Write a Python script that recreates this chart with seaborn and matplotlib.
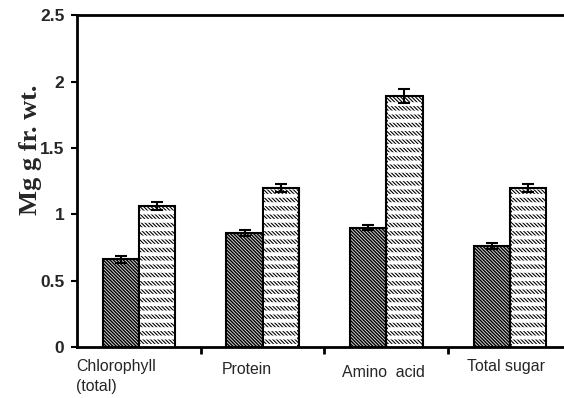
import matplotlib
matplotlib.use("Agg")
import matplotlib.pyplot as plt
import matplotlib.transforms as mtransforms
import seaborn as sns
import pandas as pd
import numpy as np

categories = ["Chlorophyll\n(total)", "Protein", "Amino  acid", "Total sugar"]
series_names = ["Control", "Treated"]
control = [0.66, 0.86, 0.90, 0.76]
treated = [1.06, 1.20, 1.89, 1.20]
control_err = [0.025, 0.025, 0.02, 0.025]
treated_err = [0.03, 0.03, 0.05, 0.03]
y_ticks = [0, 0.5, 1, 1.5, 2, 2.5]
y_tick_labels = ["0", "0.5", "1", "1.5", "2", "2.5"]

sns.set_theme(style="white")
plt.rcParams["hatch.linewidth"] = 1.0

df = pd.DataFrame({
    "cat": categories * 2,
    "series": [series_names[0]] * 4 + [series_names[1]] * 4,
    "value": control + treated,
})

fig = plt.figure(figsize=(5.64, 3.98), dpi=100)
ax = fig.add_axes([0.1365, 0.128, 0.8777, 0.834])

sns.barplot(data=df, x="cat", y="value", hue="series", order=categories,
            hue_order=series_names, palette=["white", "white"],
            width=0.585, errorbar=None, legend=False, ax=ax,
            edgecolor="black", linewidth=1.5)


def set_hlw(patch, lw):
    if hasattr(patch, "set_hatch_linewidth"):
        patch.set_hatch_linewidth(lw)
    else:
        patch._hatch_linewidth = lw


errs = {series_names[0]: control_err, series_names[1]: treated_err}
vals = {series_names[0]: control, series_names[1]: treated}
hatches = {series_names[0]: "\\" * 10, series_names[1]: "\\" * 9}
hatch_colors = {series_names[0]: "#111111", series_names[1]: "#5a5a5a"}
hatch_lws = {series_names[0]: 1.0, series_names[1]: 0.8}
faces = {series_names[0]: "#d4d4d4", series_names[1]: "white"}

for container, name in zip(ax.containers, series_names):
    xs = []
    for p in container.patches:
        p.set_hatch(hatches[name])
        p.set_facecolor(faces[name])
        p._hatch_color = matplotlib.colors.to_rgba(hatch_colors[name])
        set_hlw(p, hatch_lws[name])
        p.set_edgecolor("black")
        xs.append(p.get_x() + p.get_width() / 2)
        if name == series_names[1]:
            # white horizontal stripes to break the diagonal hatch into dashes
            ov = matplotlib.patches.Rectangle(
                (p.get_x() + 0.012, 0.0), p.get_width() - 0.024, p.get_height() - 0.012,
                facecolor="none", edgecolor="none", hatch="-" * 2, zorder=p.get_zorder() + 0.1)
            ov._hatch_color = (1, 1, 1, 1)
            set_hlw(ov, 2.8)
            ax.add_patch(ov)
    ax.errorbar(xs, vals[name], yerr=errs[name], fmt="none", ecolor="black",
                elinewidth=1.5, capsize=4, capthick=1.5, zorder=5)

ax.set_ylim(0, 2.5)
ax.set_xlim(-0.5, 3.5)
ax.set_yticks(y_ticks)
ax.set_yticklabels(y_tick_labels, fontfamily="Liberation Sans",
                   fontweight="bold", fontsize=12.5)
ax.set_ylabel("Mg g fr. wt.", fontfamily="Liberation Serif",
              fontweight="bold", fontsize=19)
ax.yaxis.set_label_coords(-0.071, 0.593)
ax.set_xlabel("")

ax.set_xticks(range(len(categories)))
ax.set_xticklabels(categories, fontfamily="Liberation Sans", fontsize=11.4,
                   multialignment="left", linespacing=1.45)
ax.tick_params(axis="x", length=0, pad=8.5)
ax.set_xticks([0.5, 1.5, 2.5], minor=True)
ax.tick_params(axis="x", which="minor", length=5, width=2, direction="out",
               color="black", bottom=True)
ax.tick_params(axis="y", length=4, width=1.5, direction="out", left=True,
               color="black", pad=5)

offsets = [(-23, 0), (-16, -3), (-3, -6), (-4, 0)]
for lab, (dx, dy) in zip(ax.get_xticklabels(), offsets):
    lab.set_transform(lab.get_transform() +
                      mtransforms.ScaledTranslation(dx / 100, dy / 100, fig.dpi_scale_trans))

for s in ["left", "bottom", "top"]:
    ax.spines[s].set_visible(True)
    ax.spines[s].set_color("black")
    ax.spines[s].set_linewidth(2)
ax.spines["right"].set_visible(False)

fig.savefig("out.png", dpi=100)
